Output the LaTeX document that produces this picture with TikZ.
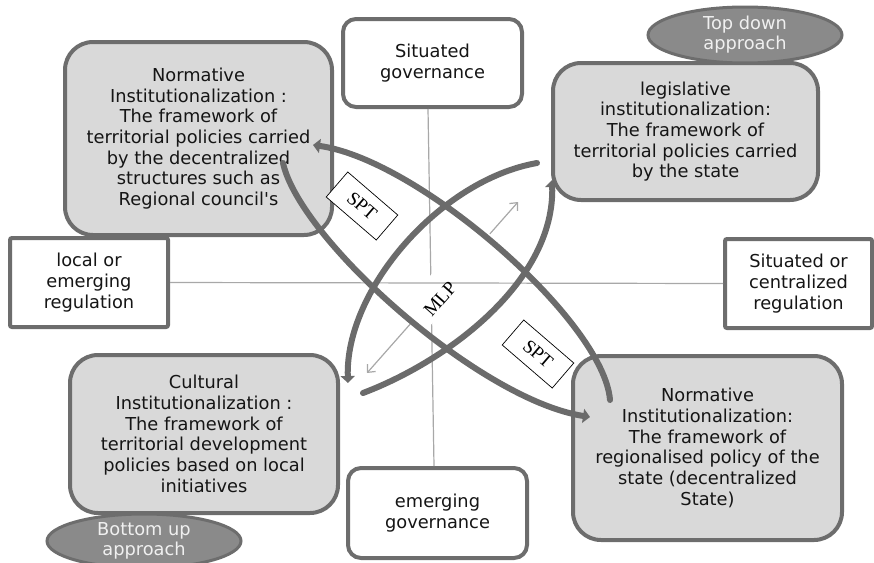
\documentclass[tikz,border=0pt]{standalone}
\usepackage{fontspec}
\setmainfont{DejaVu Sans}
\newfontfamily\serifx{Liberation Serif}
\usetikzlibrary{arrows.meta,shapes.geometric}
\definecolor{bord}{HTML}{6D6D6D}
\definecolor{boxfill}{HTML}{D9D9D9}
\definecolor{ellfill}{HTML}{8A8A8A}
\definecolor{curvecol}{HTML}{6B6B6B}
\definecolor{thin}{HTML}{A8A8A8}
\definecolor{txt}{HTML}{151515}
\begin{document}
\begin{tikzpicture}[x=1pt,y=-1pt,
  txtfont/.style={font=\fontsize{17.8}{20.7}\selectfont, text=txt, align=center},
  graybox/.style={txtfont, draw=bord, line width=4pt, fill=boxfill, rounded corners=28pt, inner sep=0pt},
  govbox/.style={txtfont, draw=bord, line width=4pt, fill=white, rounded corners=13pt, inner sep=0pt},
  regbox/.style={txtfont, draw=bord, line width=4pt, fill=white, rounded corners=2pt, inner sep=0pt},
  approach/.style={ellipse, draw=bord, line width=3pt, fill=ellfill, inner sep=0pt,
    font=\fontsize{17.8}{20}\selectfont, text=white!94!black, align=center},
  thinline/.style={draw=thin, line width=1.2pt},
  bigarrow/.style={draw=curvecol, line width=6pt, line cap=round,
    -{Triangle[width=14pt,length=7pt]}},
  spt/.style={draw=black, line width=0.7pt, fill=white, minimum width=66pt, minimum height=33pt,
    inner sep=0pt, rotate=-40.7, font=\serifx\fontsize{19}{19}\selectfont}
]
\useasboundingbox (0,0) rectangle (874,562);

% boxes
\node[graybox, minimum width=267pt, minimum height=193pt] (tl) at (198.5,138.5)
  {Normative\\Institutionalization :\\The framework of\\territorial policies carried\\by the decentralized\\structures such as\\Regional council\textquotesingle s};
\node[graybox, minimum width=265pt, minimum height=137pt] (tr) at (685.5,131.5)
  {legislative\\institutionalization:\\The framework of\\territorial policies carried\\by the state};
\node[graybox, minimum width=268pt, minimum height=158pt] (bl) at (204,434)
  {Cultural\\Institutionalization :\\The framework of\\territorial development\\policies based on local\\initiatives};
\node[graybox, minimum width=269pt, minimum height=184pt] (br) at (707.5,448)
  {Normative\\Institutionalization:\\The framework of\\regionalised policy of the\\state (decentralized\\State)};

\node[govbox, minimum width=179pt, minimum height=88pt] (sg) at (432.5,63) {Situated\\governance};
\node[govbox, minimum width=179pt, minimum height=90pt] (eg) at (437.5,513) {emerging\\governance};
\node[regbox, minimum width=158pt, minimum height=89pt] (lr) at (89,282.5) {local or\\emerging\\regulation};
\node[regbox, minimum width=147pt, minimum height=89pt] (rr) at (798.5,283.5) {Situated or\\centralized\\regulation};

\node[approach, minimum width=194pt, minimum height=56pt] (td) at (745,35) {Top down\\approach};
\node[approach, minimum width=194pt, minimum height=54pt] (bu) at (144,541) {Bottom up\\approach};

% axes and MLP arrow
\draw[thinline] ([xshift=-4.5pt]sg.south) -- ([xshift=-3.5pt]eg.north);
\coordinate (mlpa) at (367,373);
\coordinate (mlpb) at (518,202);
\draw[thinline, {Straight Barb[length=6pt,width=11pt]}-{Straight Barb[length=6pt,width=11pt]}] (mlpa) -- (mlpb);
\node[fill=white, minimum width=116pt, minimum height=33pt, inner sep=0pt, rotate=48.6] (mlpbox) at (451,277) {};
\draw[thinline] (lr.east) -- (rr.west);

% big curved arrows
\coordinate (a1s) at (610,400);
\coordinate (a1e) at (313,145);
\coordinate (a2s) at (283,163);
\coordinate (a2e) at (590,417);
\coordinate (b1s) at (537,163);
\coordinate (b1e) at (348,383);
\coordinate (b2s) at (363,393);
\coordinate (b2e) at (552,180);
\draw[bigarrow] (a1s) .. controls (604,322) and (420,160) .. (a1e);
\draw[bigarrow] (a2s) .. controls (300,240) and (480,400) .. (a2e);
\draw[bigarrow] (b1s) .. controls (440,180) and (345,290) .. (b1e);
\draw[bigarrow] (b2s) .. controls (450,360) and (555,280) .. (b2e);

% labels
\node[spt] (spt1) at (362,206) {SPT};
\node[spt] (spt2) at (538,354) {SPT};
\node[inner sep=0pt, rotate=48.6, font=\serifx\fontsize{19}{19}\selectfont] (mlp) at (440,299) {MLP};
\end{tikzpicture}
\end{document}
